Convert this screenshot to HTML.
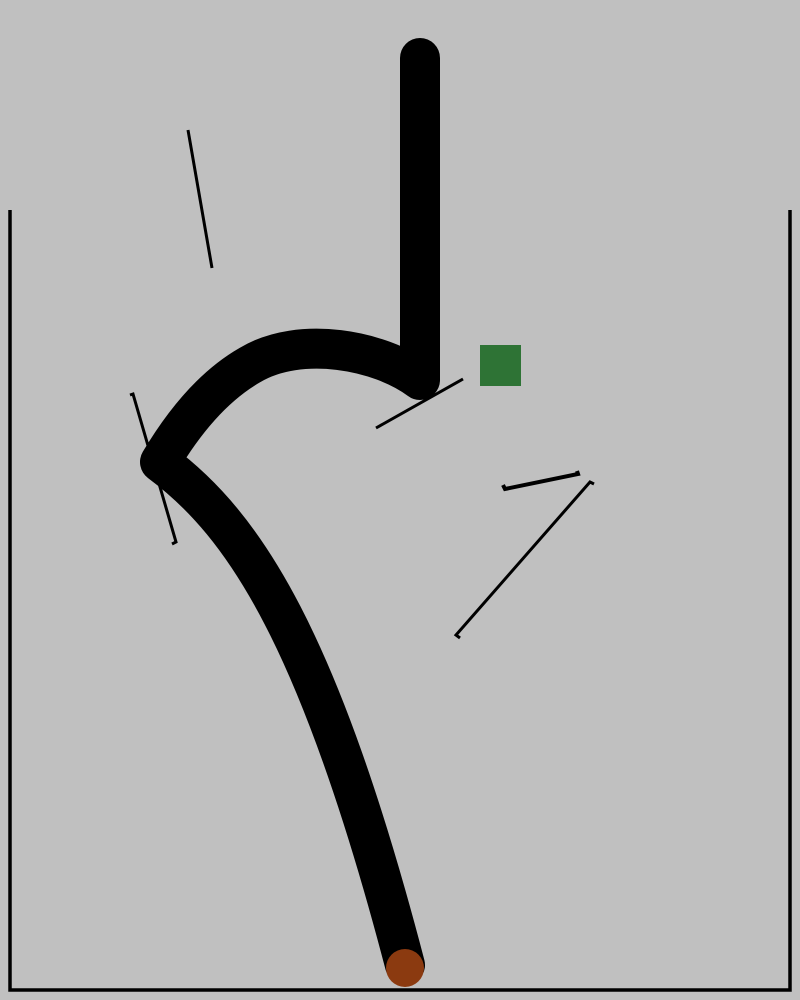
<!DOCTYPE html>
<html>
<head>
<meta charset="utf-8">
<style>
html,body{margin:0;padding:0;background:#c0c0c0;width:800px;height:1000px;overflow:hidden}
svg{display:block}
</style>
</head>
<body>
<svg width="800" height="1000" viewBox="0 0 800 1000">
  <rect x="0" y="0" width="800" height="1000" fill="#c0c0c0"/>
  <path d="M10 210 L10 990 L790 990 L790 210" fill="none" stroke="#000" stroke-width="3.5"/>
  <path d="M420 58 L420 380 C380 350 300 335 250 365 C215 385 185 420 160 462 C245 525 320 640 405 965"
        fill="none" stroke="#000" stroke-width="40" stroke-linecap="round" stroke-linejoin="round"
       />
  <circle cx="405" cy="968" r="19" fill="#8b3a10"/>
  <rect x="480" y="345" width="41" height="41" fill="#2e7335"/>
  <line x1="188" y1="130" x2="212" y2="268" stroke="#000" stroke-width="3"/>
  <path d="M130 395 L133 394 L176 542 L172 544" fill="none" stroke="#000" stroke-width="3"/>
  <line x1="376" y1="428" x2="463" y2="379" stroke="#000" stroke-width="3"/>
  <path d="M503 485 L505 489 L578 474 L577 471" fill="none" stroke="#000" stroke-width="4"/>
  <path d="M594 484 L590 482 L456 635 L460 638" fill="none" stroke="#000" stroke-width="3"/>
</svg>
</body>
</html>
